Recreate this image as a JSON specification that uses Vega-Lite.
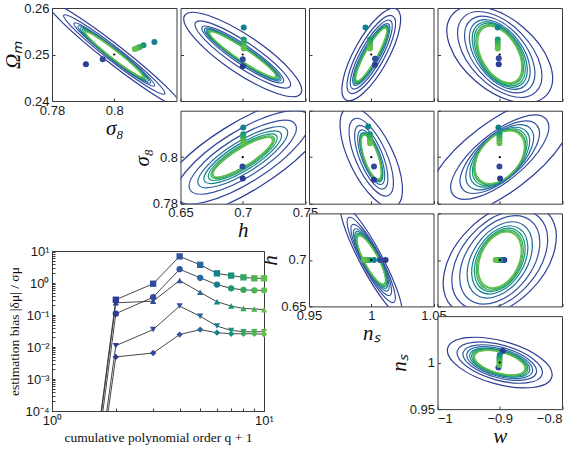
{
  "$schema": "https://vega.github.io/schema/vega-lite/v6.json",
  "background": "white",
  "padding": {"left": 2, "top": 1, "right": 2, "bottom": 4},
  "datasets": {
    "fid": [
      {"p": "A", "x": 0.8, "y": 0.25}, {"p": "B", "x": 0.7, "y": 0.25}, {"p": "C", "x": 1, "y": 0.25}, {"p": "D", "x": -0.9, "y": 0.25},
      {"p": "E", "x": 0.7, "y": 0.8}, {"p": "F", "x": 1, "y": 0.8}, {"p": "G", "x": -0.9, "y": 0.8},
      {"p": "H", "x": 1, "y": 0.7}, {"p": "I", "x": -0.9, "y": 0.7}, {"p": "J", "x": -0.9, "y": 1}
    ],
    "contours": [
      {"p":"A","q":2,"x":0.8,"y":0.25},{"p":"A","q":3,"x":0.8,"y":0.25},{"p":"A","q":4,"x":0.8,"y":0.25},{"p":"A","q":5,"x":0.8,"y":0.25},{"p":"A","q":6,"x":0.8,"y":0.25},{"p":"A","q":7,"x":0.8,"y":0.25},{"p":"A","q":8,"x":0.8,"y":0.25},{"p":"A","q":9,"x":0.8,"y":0.25},{"p":"A","q":10,"x":0.8,"y":0.25},
      {"p":"B","q":2,"x":0.7,"y":0.25},{"p":"B","q":3,"x":0.7,"y":0.25},{"p":"B","q":4,"x":0.7,"y":0.25},{"p":"B","q":5,"x":0.7,"y":0.25},{"p":"B","q":6,"x":0.7,"y":0.25},{"p":"B","q":7,"x":0.7,"y":0.25},{"p":"B","q":8,"x":0.7,"y":0.25},{"p":"B","q":9,"x":0.7,"y":0.25},{"p":"B","q":10,"x":0.7,"y":0.25},
      {"p":"C","q":2,"x":1,"y":0.25},{"p":"C","q":3,"x":1,"y":0.25},{"p":"C","q":4,"x":1,"y":0.25},{"p":"C","q":5,"x":1,"y":0.25},{"p":"C","q":6,"x":1,"y":0.25},{"p":"C","q":7,"x":1,"y":0.25},{"p":"C","q":8,"x":1,"y":0.25},{"p":"C","q":9,"x":1,"y":0.25},{"p":"C","q":10,"x":1,"y":0.25},
      {"p":"D","q":2,"x":-0.9,"y":0.25},{"p":"D","q":3,"x":-0.9,"y":0.25},{"p":"D","q":4,"x":-0.9,"y":0.25},{"p":"D","q":5,"x":-0.9,"y":0.25},{"p":"D","q":6,"x":-0.9,"y":0.25},{"p":"D","q":7,"x":-0.9,"y":0.25},{"p":"D","q":8,"x":-0.9,"y":0.25},{"p":"D","q":9,"x":-0.9,"y":0.25},{"p":"D","q":10,"x":-0.9,"y":0.25},
      {"p":"E","q":2,"x":0.7,"y":0.8},{"p":"E","q":3,"x":0.7,"y":0.8},{"p":"E","q":4,"x":0.7,"y":0.8},{"p":"E","q":5,"x":0.7,"y":0.8},{"p":"E","q":6,"x":0.7,"y":0.8},{"p":"E","q":7,"x":0.7,"y":0.8},{"p":"E","q":8,"x":0.7,"y":0.8},{"p":"E","q":9,"x":0.7,"y":0.8},{"p":"E","q":10,"x":0.7,"y":0.8},
      {"p":"F","q":2,"x":1,"y":0.8},{"p":"F","q":3,"x":1,"y":0.8},{"p":"F","q":4,"x":1,"y":0.8},{"p":"F","q":5,"x":1,"y":0.8},{"p":"F","q":6,"x":1,"y":0.8},{"p":"F","q":7,"x":1,"y":0.8},{"p":"F","q":8,"x":1,"y":0.8},{"p":"F","q":9,"x":1,"y":0.8},{"p":"F","q":10,"x":1,"y":0.8},
      {"p":"G","q":2,"x":-0.9,"y":0.8},{"p":"G","q":3,"x":-0.9,"y":0.8},{"p":"G","q":4,"x":-0.9,"y":0.8},{"p":"G","q":5,"x":-0.9,"y":0.8},{"p":"G","q":6,"x":-0.9,"y":0.8},{"p":"G","q":7,"x":-0.9,"y":0.8},{"p":"G","q":8,"x":-0.9,"y":0.8},{"p":"G","q":9,"x":-0.9,"y":0.8},{"p":"G","q":10,"x":-0.9,"y":0.8},
      {"p":"H","q":2,"x":1,"y":0.7},{"p":"H","q":3,"x":1,"y":0.7},{"p":"H","q":4,"x":1,"y":0.7},{"p":"H","q":5,"x":1,"y":0.7},{"p":"H","q":6,"x":1,"y":0.7},{"p":"H","q":7,"x":1,"y":0.7},{"p":"H","q":8,"x":1,"y":0.7},{"p":"H","q":9,"x":1,"y":0.7},{"p":"H","q":10,"x":1,"y":0.7},
      {"p":"I","q":2,"x":-0.9,"y":0.7},{"p":"I","q":3,"x":-0.9,"y":0.7},{"p":"I","q":4,"x":-0.9,"y":0.7},{"p":"I","q":5,"x":-0.9,"y":0.7},{"p":"I","q":6,"x":-0.9,"y":0.7},{"p":"I","q":7,"x":-0.9,"y":0.7},{"p":"I","q":8,"x":-0.9,"y":0.7},{"p":"I","q":9,"x":-0.9,"y":0.7},{"p":"I","q":10,"x":-0.9,"y":0.7},
      {"p":"J","q":2,"x":-0.9,"y":1},{"p":"J","q":3,"x":-0.9,"y":1},{"p":"J","q":4,"x":-0.9,"y":1},{"p":"J","q":5,"x":-0.9,"y":1},{"p":"J","q":6,"x":-0.9,"y":1},{"p":"J","q":7,"x":-0.9,"y":1},{"p":"J","q":8,"x":-0.9,"y":1},{"p":"J","q":9,"x":-0.9,"y":1},{"p":"J","q":10,"x":-0.9,"y":1}
    ],
    "fits": [
      {"p":"A","q":2,"x":0.7909,"y":0.2479},{"p":"A","q":3,"x":0.7963,"y":0.249},{"p":"A","q":6,"x":0.8129,"y":0.2527},{"p":"A","q":7,"x":0.8094,"y":0.252},{"p":"A","q":8,"x":0.8082,"y":0.2516},{"p":"A","q":9,"x":0.8074,"y":0.2514},{"p":"A","q":10,"x":0.8066,"y":0.2512},
      {"p":"B","q":2,"x":0.7,"y":0.2475},{"p":"B","q":3,"x":0.7,"y":0.249},{"p":"B","q":6,"x":0.7008,"y":0.2558},{"p":"B","q":7,"x":0.7008,"y":0.2532},{"p":"B","q":8,"x":0.7008,"y":0.2526},{"p":"B","q":9,"x":0.7008,"y":0.2519},{"p":"B","q":10,"x":0.7008,"y":0.2513},
      {"p":"C","q":2,"x":1.003,"y":0.2478},{"p":"C","q":3,"x":1.003,"y":0.2491},{"p":"C","q":6,"x":0.9954,"y":0.2558},{"p":"C","q":7,"x":0.999,"y":0.2532},{"p":"C","q":8,"x":0.999,"y":0.2526},{"p":"C","q":9,"x":0.999,"y":0.2519},{"p":"C","q":10,"x":0.999,"y":0.2513},
      {"p":"D","q":2,"x":-0.9016,"y":0.2479},{"p":"D","q":3,"x":-0.9016,"y":0.2492},{"p":"D","q":6,"x":-0.9032,"y":0.2558},{"p":"D","q":7,"x":-0.9032,"y":0.2532},{"p":"D","q":8,"x":-0.9032,"y":0.2526},{"p":"D","q":9,"x":-0.9032,"y":0.2519},{"p":"D","q":10,"x":-0.9032,"y":0.2513},
      {"p":"E","q":2,"x":0.7,"y":0.7908},{"p":"E","q":3,"x":0.6998,"y":0.796},{"p":"E","q":6,"x":0.7004,"y":0.8128},{"p":"E","q":7,"x":0.7004,"y":0.8099},{"p":"E","q":8,"x":0.7004,"y":0.8086},{"p":"E","q":9,"x":0.7004,"y":0.8073},{"p":"E","q":10,"x":0.7004,"y":0.806},
      {"p":"F","q":2,"x":1.0022,"y":0.7903},{"p":"F","q":3,"x":1.0022,"y":0.796},{"p":"F","q":6,"x":0.9976,"y":0.8132},{"p":"F","q":7,"x":0.999,"y":0.8099},{"p":"F","q":8,"x":0.999,"y":0.8086},{"p":"F","q":9,"x":0.999,"y":0.8073},{"p":"F","q":10,"x":0.999,"y":0.806},
      {"p":"G","q":2,"x":-0.8995,"y":0.7908},{"p":"G","q":3,"x":-0.9005,"y":0.796},{"p":"G","q":6,"x":-0.9021,"y":0.8128},{"p":"G","q":7,"x":-0.9005,"y":0.8099},{"p":"G","q":8,"x":-0.9005,"y":0.8086},{"p":"G","q":9,"x":-0.9005,"y":0.8073},{"p":"G","q":10,"x":-0.9005,"y":0.806},
      {"p":"H","q":2,"x":1.0115,"y":0.7},{"p":"H","q":3,"x":1.007,"y":0.7},{"p":"H","q":6,"x":1.0022,"y":0.7},{"p":"H","q":7,"x":0.9988,"y":0.7},{"p":"H","q":8,"x":0.9972,"y":0.7},{"p":"H","q":9,"x":0.9956,"y":0.7},{"p":"H","q":10,"x":0.9941,"y":0.7},
      {"p":"I","q":2,"x":-0.8927,"y":0.7},{"p":"I","q":3,"x":-0.8952,"y":0.7},{"p":"I","q":6,"x":-0.8992,"y":0.7},{"p":"I","q":7,"x":-0.9016,"y":0.7},{"p":"I","q":8,"x":-0.9032,"y":0.7},{"p":"I","q":9,"x":-0.9048,"y":0.7},{"p":"I","q":10,"x":-0.9065,"y":0.7},
      {"p":"J","q":2,"x":-0.8952,"y":1.0124},{"p":"J","q":3,"x":-0.9021,"y":0.9948},{"p":"J","q":6,"x":-0.9,"y":1.0081},{"p":"J","q":7,"x":-0.9005,"y":1.0054},{"p":"J","q":8,"x":-0.9005,"y":1.0027},{"p":"J","q":9,"x":-0.9005,"y":1.0},{"p":"J","q":10,"x":-0.9005,"y":0.9973}
    ],
    "bias": [
      {"s":"Ωm","q":1,"b":2e-16},{"s":"Ωm","q":2,"b":0.30},{"s":"Ωm","q":3,"b":0.95},{"s":"Ωm","q":4,"b":6.8},{"s":"Ωm","q":5,"b":3.7},{"s":"Ωm","q":6,"b":2.0},{"s":"Ωm","q":7,"b":1.7},{"s":"Ωm","q":8,"b":1.5},{"s":"Ωm","q":9,"b":1.4},{"s":"Ωm","q":10,"b":1.4},
      {"s":"σ8","q":1,"b":1e-16},{"s":"σ8","q":2,"b":0.11},{"s":"σ8","q":3,"b":0.36},{"s":"σ8","q":4,"b":2.7},{"s":"σ8","q":5,"b":1.45},{"s":"σ8","q":6,"b":0.89},{"s":"σ8","q":7,"b":0.68},{"s":"σ8","q":8,"b":0.61},{"s":"σ8","q":9,"b":0.59},{"s":"σ8","q":10,"b":0.59},
      {"s":"w","q":1,"b":1.5e-16},{"s":"w","q":2,"b":0.24},{"s":"w","q":3,"b":0.27},{"s":"w","q":4,"b":1.2},{"s":"w","q":5,"b":0.51},{"s":"w","q":6,"b":0.26},{"s":"w","q":7,"b":0.19},{"s":"w","q":8,"b":0.16},{"s":"w","q":9,"b":0.155},{"s":"w","q":10,"b":0.147},
      {"s":"ns","q":1,"b":5e-17},{"s":"ns","q":2,"b":0.011},{"s":"ns","q":3,"b":0.035},{"s":"ns","q":4,"b":0.19},{"s":"ns","q":5,"b":0.091},{"s":"ns","q":6,"b":0.045},{"s":"ns","q":7,"b":0.033},{"s":"ns","q":8,"b":0.030},{"s":"ns","q":9,"b":0.030},{"s":"ns","q":10,"b":0.030},
      {"s":"h","q":1,"b":3e-17},{"s":"h","q":2,"b":0.0049},{"s":"h","q":3,"b":0.0065},{"s":"h","q":4,"b":0.0245},{"s":"h","q":5,"b":0.035},{"s":"h","q":6,"b":0.028},{"s":"h","q":7,"b":0.026},{"s":"h","q":8,"b":0.026},{"s":"h","q":9,"b":0.026},{"s":"h","q":10,"b":0.025}
    ]
  },
  "bounds": "full",
  "align": "none",
  "spacing": -203,
  "resolve": {"scale": {"size": "independent", "shape": "independent", "angle": "independent", "color": "shared"}},
  "vconcat": [
    {
      "columns": 4,
      "bounds": "flush",
      "spacing": {"row": 9.7, "column": 3.5},
      "resolve": {"scale": {"size": "independent", "shape": "independent", "angle": "independent", "color": "shared"}},
      "concat": [
        {
          "width": 124.5, "height": 93,
          "layer": [
            {"data": {"name": "contours"}, "transform": [{"filter": {"field": "p", "equal": "A"}}],
             "mark": {"type": "point", "filled": false, "strokeWidth": 1.2, "opacity": 1, "clip": true, "angle": 38,
                      "shape": "M1,0C1,0.061 0.552,0.11 0,0.11C-0.552,0.11 -1,0.061 -1,0C-1,-0.061 -0.552,-0.11 0,-0.11C0.552,-0.11 1,-0.061 1,0Z"},
             "encoding": {
               "x": {"field": "x", "type": "quantitative", "scale": {"domain": [0.78, 0.82], "nice": false, "zero": false}, "axis": {"values": [0.78, 0.8], "format": ".2~f", "title": "σ₈"}},
               "y": {"field": "y", "type": "quantitative", "scale": {"domain": [0.24, 0.26], "nice": false, "zero": false}, "axis": {"values": [0.24, 0.25, 0.26], "format": ".2~f", "title": "Ωₘ"}},
               "size": {"field": "q", "type": "quantitative", "scale": {"domain": [2,3,4,5,6,7,8,9,10], "range": [29584,16384,10404,8464,7396,6561,5929,5476,5184]}},
               "color": {"field": "q", "type": "ordinal", "scale": {"domain": [2,3,4,5,6,7,8,9,10], "range": ["#2c3c94","#32489c","#3354a2","#24689f","#13808e","#179676","#31a85e","#48b550","#60c14a"]}}
             }},
            {"data": {"name": "fits"}, "transform": [{"filter": {"field": "p", "equal": "A"}}],
             "mark": {"type": "point", "filled": true, "size": 36, "opacity": 1},
             "encoding": {"x": {"field": "x", "type": "quantitative"}, "y": {"field": "y", "type": "quantitative"}, "color": {"field": "q", "type": "ordinal"}}},
            {"data": {"name": "fid"}, "transform": [{"filter": {"field": "p", "equal": "A"}}],
             "mark": {"type": "point", "filled": true, "size": 5, "color": "#000", "opacity": 1},
             "encoding": {"x": {"field": "x", "type": "quantitative"}, "y": {"field": "y", "type": "quantitative"}}}
          ]
        },
        {
          "width": 124.5, "height": 93,
          "layer": [
            {"data": {"name": "contours"}, "transform": [{"filter": {"field": "p", "equal": "B"}}],
             "mark": {"type": "point", "filled": false, "strokeWidth": 1.2, "opacity": 1, "clip": true, "angle": 34},
             "encoding": {
               "x": {"field": "x", "type": "quantitative", "scale": {"domain": [0.65, 0.75], "nice": false, "zero": false}, "axis": {"values": [0.65, 0.7, 0.75], "labels": false, "title": null}},
               "y": {"field": "y", "type": "quantitative", "scale": {"domain": [0.24, 0.26], "nice": false, "zero": false}, "axis": {"values": [0.24, 0.25, 0.26], "labels": false, "title": null}},
               "size": {"field": "q", "type": "quantitative", "scale": {"domain": [2,3,4,5,6,7,8,9,10], "range": [19600,12996,9604,8464,7744,7225,6724,6400,6241]}},
               "shape": {"field": "q", "type": "ordinal", "scale": {"domain": [2,3,4,5,6,7,8,9,10], "range": [
                 "M1,0C1,0.149 0.552,0.27 0,0.27C-0.552,0.27 -1,0.149 -1,0C-1,-0.149 -0.552,-0.27 0,-0.27C0.552,-0.27 1,-0.149 1,0Z",
                 "M1,0C1,0.122 0.552,0.22 0,0.22C-0.552,0.22 -1,0.122 -1,0C-1,-0.122 -0.552,-0.22 0,-0.22C0.552,-0.22 1,-0.122 1,0Z",
                 "M1,0C1,0.105 0.552,0.19 0,0.19C-0.552,0.19 -1,0.105 -1,0C-1,-0.105 -0.552,-0.19 0,-0.19C0.552,-0.19 1,-0.105 1,0Z",
                 "M1,0C1,0.094 0.552,0.17 0,0.17C-0.552,0.17 -1,0.094 -1,0C-1,-0.094 -0.552,-0.17 0,-0.17C0.552,-0.17 1,-0.094 1,0Z",
                 "M1,0C1,0.088 0.552,0.16 0,0.16C-0.552,0.16 -1,0.088 -1,0C-1,-0.088 -0.552,-0.16 0,-0.16C0.552,-0.16 1,-0.088 1,0Z",
                 "M1,0C1,0.088 0.552,0.16 0,0.16C-0.552,0.16 -1,0.088 -1,0C-1,-0.088 -0.552,-0.16 0,-0.16C0.552,-0.16 1,-0.088 1,0Z",
                 "M1,0C1,0.083 0.552,0.15 0,0.15C-0.552,0.15 -1,0.083 -1,0C-1,-0.083 -0.552,-0.15 0,-0.15C0.552,-0.15 1,-0.083 1,0Z",
                 "M1,0C1,0.083 0.552,0.15 0,0.15C-0.552,0.15 -1,0.083 -1,0C-1,-0.083 -0.552,-0.15 0,-0.15C0.552,-0.15 1,-0.083 1,0Z",
                 "M1,0C1,0.083 0.552,0.15 0,0.15C-0.552,0.15 -1,0.083 -1,0C-1,-0.083 -0.552,-0.15 0,-0.15C0.552,-0.15 1,-0.083 1,0Z"]}},
               "color": {"field": "q", "type": "ordinal"}
             }},
            {"data": {"name": "fits"}, "transform": [{"filter": {"field": "p", "equal": "B"}}],
             "mark": {"type": "point", "filled": true, "size": 36, "opacity": 1},
             "encoding": {"x": {"field": "x", "type": "quantitative"}, "y": {"field": "y", "type": "quantitative"}, "color": {"field": "q", "type": "ordinal"}}},
            {"data": {"name": "fid"}, "transform": [{"filter": {"field": "p", "equal": "B"}}],
             "mark": {"type": "point", "filled": true, "size": 5, "color": "#000", "opacity": 1},
             "encoding": {"x": {"field": "x", "type": "quantitative"}, "y": {"field": "y", "type": "quantitative"}}}
          ]
        },
        {
          "width": 124.5, "height": 93,
          "layer": [
            {"data": {"name": "contours"}, "transform": [{"filter": {"field": "p", "equal": "C"}}],
             "mark": {"type": "point", "filled": false, "strokeWidth": 1.2, "opacity": 1, "clip": true, "angle": -61},
             "encoding": {
               "x": {"field": "x", "type": "quantitative", "scale": {"domain": [0.95, 1.05], "nice": false, "zero": false}, "axis": {"values": [0.95, 1, 1.05], "labels": false, "title": null}},
               "y": {"field": "y", "type": "quantitative", "scale": {"domain": [0.24, 0.26], "nice": false, "zero": false}, "axis": {"values": [0.24, 0.25, 0.26], "labels": false, "title": null}},
               "size": {"field": "q", "type": "quantitative", "scale": {"domain": [2,3,4,5,6,7,8,9,10], "range": [10816,7744,6084,4900,4356,4096,3844,3721,3600]}},
               "shape": {"field": "q", "type": "ordinal", "scale": {"domain": [2,3,4,5,6,7,8,9,10], "range": [
                 "M1,0C1,0.182 0.552,0.33 0,0.33C-0.552,0.33 -1,0.182 -1,0C-1,-0.182 -0.552,-0.33 0,-0.33C0.552,-0.33 1,-0.182 1,0Z",
                 "M1,0C1,0.166 0.552,0.3 0,0.3C-0.552,0.3 -1,0.166 -1,0C-1,-0.166 -0.552,-0.3 0,-0.3C0.552,-0.3 1,-0.166 1,0Z",
                 "M1,0C1,0.149 0.552,0.27 0,0.27C-0.552,0.27 -1,0.149 -1,0C-1,-0.149 -0.552,-0.27 0,-0.27C0.552,-0.27 1,-0.149 1,0Z",
                 "M1,0C1,0.138 0.552,0.25 0,0.25C-0.552,0.25 -1,0.138 -1,0C-1,-0.138 -0.552,-0.25 0,-0.25C0.552,-0.25 1,-0.138 1,0Z",
                 "M1,0C1,0.127 0.552,0.23 0,0.23C-0.552,0.23 -1,0.127 -1,0C-1,-0.127 -0.552,-0.23 0,-0.23C0.552,-0.23 1,-0.127 1,0Z",
                 "M1,0C1,0.122 0.552,0.22 0,0.22C-0.552,0.22 -1,0.122 -1,0C-1,-0.122 -0.552,-0.22 0,-0.22C0.552,-0.22 1,-0.122 1,0Z",
                 "M1,0C1,0.116 0.552,0.21 0,0.21C-0.552,0.21 -1,0.116 -1,0C-1,-0.116 -0.552,-0.21 0,-0.21C0.552,-0.21 1,-0.116 1,0Z",
                 "M1,0C1,0.11 0.552,0.2 0,0.2C-0.552,0.2 -1,0.11 -1,0C-1,-0.11 -0.552,-0.2 0,-0.2C0.552,-0.2 1,-0.11 1,0Z",
                 "M1,0C1,0.11 0.552,0.2 0,0.2C-0.552,0.2 -1,0.11 -1,0C-1,-0.11 -0.552,-0.2 0,-0.2C0.552,-0.2 1,-0.11 1,0Z"]}},
               "color": {"field": "q", "type": "ordinal"}
             }},
            {"data": {"name": "fits"}, "transform": [{"filter": {"field": "p", "equal": "C"}}],
             "mark": {"type": "point", "filled": true, "size": 36, "opacity": 1},
             "encoding": {"x": {"field": "x", "type": "quantitative"}, "y": {"field": "y", "type": "quantitative"}, "color": {"field": "q", "type": "ordinal"}}},
            {"data": {"name": "fid"}, "transform": [{"filter": {"field": "p", "equal": "C"}}],
             "mark": {"type": "point", "filled": true, "size": 5, "color": "#000", "opacity": 1},
             "encoding": {"x": {"field": "x", "type": "quantitative"}, "y": {"field": "y", "type": "quantitative"}}}
          ]
        },
        {
          "width": 124.5, "height": 93,
          "layer": [
            {"data": {"name": "contours"}, "transform": [{"filter": {"field": "p", "equal": "D"}}],
             "mark": {"type": "point", "filled": false, "strokeWidth": 1.2, "opacity": 1, "clip": true,
                      "shape": "M1,0C1,0.32 0.552,0.58 0,0.58C-0.552,0.58 -1,0.32 -1,0C-1,-0.32 -0.552,-0.58 0,-0.58C0.552,-0.58 1,-0.32 1,0Z"},
             "encoding": {
               "x": {"field": "x", "type": "quantitative", "scale": {"domain": [-1, -0.8], "nice": false, "zero": false}, "axis": {"values": [-1, -0.9, -0.8], "labels": false, "title": null}},
               "y": {"field": "y", "type": "quantitative", "scale": {"domain": [0.24, 0.26], "nice": false, "zero": false}, "axis": {"values": [0.24, 0.25, 0.26], "labels": false, "title": null}},
               "size": {"field": "q", "type": "quantitative", "scale": {"domain": [2,3,4,5,6,7,8,9,10], "range": [15376,10816,8100,6400,5476,4900,4356,4096,3844]}},
               "angle": {"field": "q", "type": "quantitative", "scale": {"domain": [2,3,4,5,6,7,8,9,10], "range": [40,46,50,53,55,57,58,59,60]}},
               "color": {"field": "q", "type": "ordinal"}
             }},
            {"data": {"name": "fits"}, "transform": [{"filter": {"field": "p", "equal": "D"}}],
             "mark": {"type": "point", "filled": true, "size": 36, "opacity": 1},
             "encoding": {"x": {"field": "x", "type": "quantitative"}, "y": {"field": "y", "type": "quantitative"}, "color": {"field": "q", "type": "ordinal"}}},
            {"data": {"name": "fid"}, "transform": [{"filter": {"field": "p", "equal": "D"}}],
             "mark": {"type": "point", "filled": true, "size": 5, "color": "#000", "opacity": 1},
             "encoding": {"x": {"field": "x", "type": "quantitative"}, "y": {"field": "y", "type": "quantitative"}}}
          ]
        },
        {"width": 124.5, "height": 93, "data": {"values": [{"z": 0}]}, "mark": {"type": "point", "opacity": 0}, "view": {"stroke": null, "fill": null}},
        {
          "width": 124.5, "height": 93,
          "layer": [
            {"data": {"name": "contours"}, "transform": [{"filter": {"field": "p", "equal": "E"}}],
             "mark": {"type": "point", "filled": false, "strokeWidth": 1.2, "opacity": 1, "clip": true, "angle": -32},
             "encoding": {
               "x": {"field": "x", "type": "quantitative", "scale": {"domain": [0.65, 0.75], "nice": false, "zero": false}, "axis": {"values": [0.65, 0.7, 0.75], "format": ".2~f", "title": "h"}},
               "y": {"field": "y", "type": "quantitative", "scale": {"domain": [0.78, 0.82], "nice": false, "zero": false}, "axis": {"values": [0.78, 0.8], "format": ".2~f", "title": "σ₈"}},
               "size": {"field": "q", "type": "quantitative", "scale": {"domain": [2,3,4,5,6,7,8,9,10], "range": [40000,24336,15376,10816,8100,6400,5476,5041,4761]}},
               "shape": {"field": "q", "type": "ordinal", "scale": {"domain": [2,3,4,5,6,7,8,9,10], "range": [
                 "M1,0C1,0.188 0.552,0.34 0,0.34C-0.552,0.34 -1,0.188 -1,0C-1,-0.188 -0.552,-0.34 0,-0.34C0.552,-0.34 1,-0.188 1,0Z",
                 "M1,0C1,0.182 0.552,0.33 0,0.33C-0.552,0.33 -1,0.182 -1,0C-1,-0.182 -0.552,-0.33 0,-0.33C0.552,-0.33 1,-0.182 1,0Z",
                 "M1,0C1,0.177 0.552,0.32 0,0.32C-0.552,0.32 -1,0.177 -1,0C-1,-0.177 -0.552,-0.32 0,-0.32C0.552,-0.32 1,-0.177 1,0Z",
                 "M1,0C1,0.166 0.552,0.3 0,0.3C-0.552,0.3 -1,0.166 -1,0C-1,-0.166 -0.552,-0.3 0,-0.3C0.552,-0.3 1,-0.166 1,0Z",
                 "M1,0C1,0.16 0.552,0.29 0,0.29C-0.552,0.29 -1,0.16 -1,0C-1,-0.16 -0.552,-0.29 0,-0.29C0.552,-0.29 1,-0.16 1,0Z",
                 "M1,0C1,0.155 0.552,0.28 0,0.28C-0.552,0.28 -1,0.155 -1,0C-1,-0.155 -0.552,-0.28 0,-0.28C0.552,-0.28 1,-0.155 1,0Z",
                 "M1,0C1,0.149 0.552,0.27 0,0.27C-0.552,0.27 -1,0.149 -1,0C-1,-0.149 -0.552,-0.27 0,-0.27C0.552,-0.27 1,-0.149 1,0Z",
                 "M1,0C1,0.144 0.552,0.26 0,0.26C-0.552,0.26 -1,0.144 -1,0C-1,-0.144 -0.552,-0.26 0,-0.26C0.552,-0.26 1,-0.144 1,0Z",
                 "M1,0C1,0.138 0.552,0.25 0,0.25C-0.552,0.25 -1,0.138 -1,0C-1,-0.138 -0.552,-0.25 0,-0.25C0.552,-0.25 1,-0.138 1,0Z"]}},
               "color": {"field": "q", "type": "ordinal"}
             }},
            {"data": {"name": "fits"}, "transform": [{"filter": {"field": "p", "equal": "E"}}],
             "mark": {"type": "point", "filled": true, "size": 36, "opacity": 1},
             "encoding": {"x": {"field": "x", "type": "quantitative"}, "y": {"field": "y", "type": "quantitative"}, "color": {"field": "q", "type": "ordinal"}}},
            {"data": {"name": "fid"}, "transform": [{"filter": {"field": "p", "equal": "E"}}],
             "mark": {"type": "point", "filled": true, "size": 5, "color": "#000", "opacity": 1},
             "encoding": {"x": {"field": "x", "type": "quantitative"}, "y": {"field": "y", "type": "quantitative"}}}
          ]
        },
        {
          "width": 124.5, "height": 93,
          "layer": [
            {"data": {"name": "contours"}, "transform": [{"filter": {"field": "p", "equal": "F"}}],
             "mark": {"type": "point", "filled": false, "strokeWidth": 1.2, "opacity": 1, "clip": true},
             "encoding": {
               "x": {"field": "x", "type": "quantitative", "scale": {"domain": [0.95, 1.05], "nice": false, "zero": false}, "axis": {"values": [0.95, 1, 1.05], "labels": false, "title": null}},
               "y": {"field": "y", "type": "quantitative", "scale": {"domain": [0.78, 0.82], "nice": false, "zero": false}, "axis": {"values": [0.78, 0.8, 0.82], "labels": false, "title": null}},
               "size": {"field": "q", "type": "quantitative", "scale": {"domain": [2,3,4,5,6,7,8,9,10], "range": [12100,7056,4624,3364,2704,2500,2304,2209,2116]}},
               "angle": {"field": "q", "type": "quantitative", "scale": {"domain": [2,3,4,5,6,7,8,9,10], "range": [64,66,68,69,70,70,71,71,71]}},
               "shape": {"field": "q", "type": "ordinal", "scale": {"domain": [2,3,4,5,6,7,8,9,10], "range": [
                 "M1,0C1,0.221 0.552,0.4 0,0.4C-0.552,0.4 -1,0.221 -1,0C-1,-0.221 -0.552,-0.4 0,-0.4C0.552,-0.4 1,-0.221 1,0Z",
                 "M1,0C1,0.204 0.552,0.37 0,0.37C-0.552,0.37 -1,0.204 -1,0C-1,-0.204 -0.552,-0.37 0,-0.37C0.552,-0.37 1,-0.204 1,0Z",
                 "M1,0C1,0.188 0.552,0.34 0,0.34C-0.552,0.34 -1,0.188 -1,0C-1,-0.188 -0.552,-0.34 0,-0.34C0.552,-0.34 1,-0.188 1,0Z",
                 "M1,0C1,0.177 0.552,0.32 0,0.32C-0.552,0.32 -1,0.177 -1,0C-1,-0.177 -0.552,-0.32 0,-0.32C0.552,-0.32 1,-0.177 1,0Z",
                 "M1,0C1,0.171 0.552,0.31 0,0.31C-0.552,0.31 -1,0.171 -1,0C-1,-0.171 -0.552,-0.31 0,-0.31C0.552,-0.31 1,-0.171 1,0Z",
                 "M1,0C1,0.166 0.552,0.3 0,0.3C-0.552,0.3 -1,0.166 -1,0C-1,-0.166 -0.552,-0.3 0,-0.3C0.552,-0.3 1,-0.166 1,0Z",
                 "M1,0C1,0.166 0.552,0.3 0,0.3C-0.552,0.3 -1,0.166 -1,0C-1,-0.166 -0.552,-0.3 0,-0.3C0.552,-0.3 1,-0.166 1,0Z",
                 "M1,0C1,0.166 0.552,0.3 0,0.3C-0.552,0.3 -1,0.166 -1,0C-1,-0.166 -0.552,-0.3 0,-0.3C0.552,-0.3 1,-0.166 1,0Z",
                 "M1,0C1,0.166 0.552,0.3 0,0.3C-0.552,0.3 -1,0.166 -1,0C-1,-0.166 -0.552,-0.3 0,-0.3C0.552,-0.3 1,-0.166 1,0Z"]}},
               "color": {"field": "q", "type": "ordinal"}
             }},
            {"data": {"name": "fits"}, "transform": [{"filter": {"field": "p", "equal": "F"}}],
             "mark": {"type": "point", "filled": true, "size": 36, "opacity": 1},
             "encoding": {"x": {"field": "x", "type": "quantitative"}, "y": {"field": "y", "type": "quantitative"}, "color": {"field": "q", "type": "ordinal"}}},
            {"data": {"name": "fid"}, "transform": [{"filter": {"field": "p", "equal": "F"}}],
             "mark": {"type": "point", "filled": true, "size": 5, "color": "#000", "opacity": 1},
             "encoding": {"x": {"field": "x", "type": "quantitative"}, "y": {"field": "y", "type": "quantitative"}}}
          ]
        },
        {
          "width": 124.5, "height": 93,
          "layer": [
            {"data": {"name": "contours"}, "transform": [{"filter": {"field": "p", "equal": "G"}}],
             "mark": {"type": "point", "filled": false, "strokeWidth": 1.2, "opacity": 1, "clip": true},
             "encoding": {
               "x": {"field": "x", "type": "quantitative", "scale": {"domain": [-1, -0.8], "nice": false, "zero": false}, "axis": {"values": [-1, -0.9, -0.8], "labels": false, "title": null}},
               "y": {"field": "y", "type": "quantitative", "scale": {"domain": [0.78, 0.82], "nice": false, "zero": false}, "axis": {"values": [0.78, 0.8, 0.82], "labels": false, "title": null}},
               "size": {"field": "q", "type": "quantitative", "scale": {"domain": [2,3,4,5,6,7,8,9,10], "range": [30976,14400,9604,7056,5476,4624,4096,3844,3600]}},
               "angle": {"field": "q", "type": "quantitative", "scale": {"domain": [2,3,4,5,6,7,8,9,10], "range": [-37,-39,-41,-43,-45,-47,-48,-49,-50]}},
               "shape": {"field": "q", "type": "ordinal", "scale": {"domain": [2,3,4,5,6,7,8,9,10], "range": [
                 "M1,0C1,0.221 0.552,0.4 0,0.4C-0.552,0.4 -1,0.221 -1,0C-1,-0.221 -0.552,-0.4 0,-0.4C0.552,-0.4 1,-0.221 1,0Z",
                 "M1,0C1,0.221 0.552,0.4 0,0.4C-0.552,0.4 -1,0.221 -1,0C-1,-0.221 -0.552,-0.4 0,-0.4C0.552,-0.4 1,-0.221 1,0Z",
                 "M1,0C1,0.249 0.552,0.45 0,0.45C-0.552,0.45 -1,0.249 -1,0C-1,-0.249 -0.552,-0.45 0,-0.45C0.552,-0.45 1,-0.249 1,0Z",
                 "M1,0C1,0.276 0.552,0.5 0,0.5C-0.552,0.5 -1,0.276 -1,0C-1,-0.276 -0.552,-0.5 0,-0.5C0.552,-0.5 1,-0.276 1,0Z",
                 "M1,0C1,0.304 0.552,0.55 0,0.55C-0.552,0.55 -1,0.304 -1,0C-1,-0.304 -0.552,-0.55 0,-0.55C0.552,-0.55 1,-0.304 1,0Z",
                 "M1,0C1,0.32 0.552,0.58 0,0.58C-0.552,0.58 -1,0.32 -1,0C-1,-0.32 -0.552,-0.58 0,-0.58C0.552,-0.58 1,-0.32 1,0Z",
                 "M1,0C1,0.342 0.552,0.62 0,0.62C-0.552,0.62 -1,0.342 -1,0C-1,-0.342 -0.552,-0.62 0,-0.62C0.552,-0.62 1,-0.342 1,0Z",
                 "M1,0C1,0.353 0.552,0.64 0,0.64C-0.552,0.64 -1,0.353 -1,0C-1,-0.353 -0.552,-0.64 0,-0.64C0.552,-0.64 1,-0.353 1,0Z",
                 "M1,0C1,0.365 0.552,0.66 0,0.66C-0.552,0.66 -1,0.365 -1,0C-1,-0.365 -0.552,-0.66 0,-0.66C0.552,-0.66 1,-0.365 1,0Z"]}},
               "color": {"field": "q", "type": "ordinal"}
             }},
            {"data": {"name": "fits"}, "transform": [{"filter": {"field": "p", "equal": "G"}}],
             "mark": {"type": "point", "filled": true, "size": 36, "opacity": 1},
             "encoding": {"x": {"field": "x", "type": "quantitative"}, "y": {"field": "y", "type": "quantitative"}, "color": {"field": "q", "type": "ordinal"}}},
            {"data": {"name": "fid"}, "transform": [{"filter": {"field": "p", "equal": "G"}}],
             "mark": {"type": "point", "filled": true, "size": 5, "color": "#000", "opacity": 1},
             "encoding": {"x": {"field": "x", "type": "quantitative"}, "y": {"field": "y", "type": "quantitative"}}}
          ]
        },
        {"width": 124.5, "height": 93, "data": {"values": [{"z": 0}]}, "mark": {"type": "point", "opacity": 0}, "view": {"stroke": null, "fill": null}},
        {"width": 124.5, "height": 93, "data": {"values": [{"z": 0}]}, "mark": {"type": "point", "opacity": 0}, "view": {"stroke": null, "fill": null}},
        {
          "width": 124.5, "height": 93,
          "layer": [
            {"data": {"name": "contours"}, "transform": [{"filter": {"field": "p", "equal": "H"}}],
             "mark": {"type": "point", "filled": false, "strokeWidth": 1.2, "opacity": 1, "clip": true, "angle": 62},
             "encoding": {
               "x": {"field": "x", "type": "quantitative", "scale": {"domain": [0.95, 1.05], "nice": false, "zero": false}, "axis": {"values": [0.95, 1, 1.05], "format": ".2~f", "title": "nₛ"}},
               "y": {"field": "y", "type": "quantitative", "scale": {"domain": [0.65, 0.75], "nice": false, "zero": false}, "axis": {"values": [0.65, 0.7], "format": ".2~f", "title": "h"}},
               "size": {"field": "q", "type": "quantitative", "scale": {"domain": [2,3,4,5,6,7,8,9,10], "range": [15376,9216,6400,4900,4096,3600,3249,3025,2916]}},
               "shape": {"field": "q", "type": "ordinal", "scale": {"domain": [2,3,4,5,6,7,8,9,10], "range": [
                 "M1,0C1,0.099 0.552,0.18 0,0.18C-0.552,0.18 -1,0.099 -1,0C-1,-0.099 -0.552,-0.18 0,-0.18C0.552,-0.18 1,-0.099 1,0Z",
                 "M1,0C1,0.11 0.552,0.2 0,0.2C-0.552,0.2 -1,0.11 -1,0C-1,-0.11 -0.552,-0.2 0,-0.2C0.552,-0.2 1,-0.11 1,0Z",
                 "M1,0C1,0.122 0.552,0.22 0,0.22C-0.552,0.22 -1,0.122 -1,0C-1,-0.122 -0.552,-0.22 0,-0.22C0.552,-0.22 1,-0.122 1,0Z",
                 "M1,0C1,0.127 0.552,0.23 0,0.23C-0.552,0.23 -1,0.127 -1,0C-1,-0.127 -0.552,-0.23 0,-0.23C0.552,-0.23 1,-0.127 1,0Z",
                 "M1,0C1,0.133 0.552,0.24 0,0.24C-0.552,0.24 -1,0.133 -1,0C-1,-0.133 -0.552,-0.24 0,-0.24C0.552,-0.24 1,-0.133 1,0Z",
                 "M1,0C1,0.138 0.552,0.25 0,0.25C-0.552,0.25 -1,0.138 -1,0C-1,-0.138 -0.552,-0.25 0,-0.25C0.552,-0.25 1,-0.138 1,0Z",
                 "M1,0C1,0.138 0.552,0.25 0,0.25C-0.552,0.25 -1,0.138 -1,0C-1,-0.138 -0.552,-0.25 0,-0.25C0.552,-0.25 1,-0.138 1,0Z",
                 "M1,0C1,0.144 0.552,0.26 0,0.26C-0.552,0.26 -1,0.144 -1,0C-1,-0.144 -0.552,-0.26 0,-0.26C0.552,-0.26 1,-0.144 1,0Z",
                 "M1,0C1,0.144 0.552,0.26 0,0.26C-0.552,0.26 -1,0.144 -1,0C-1,-0.144 -0.552,-0.26 0,-0.26C0.552,-0.26 1,-0.144 1,0Z"]}},
               "color": {"field": "q", "type": "ordinal"}
             }},
            {"data": {"name": "fits"}, "transform": [{"filter": {"field": "p", "equal": "H"}}],
             "mark": {"type": "point", "filled": true, "size": 36, "opacity": 1},
             "encoding": {"x": {"field": "x", "type": "quantitative"}, "y": {"field": "y", "type": "quantitative"}, "color": {"field": "q", "type": "ordinal"}}},
            {"data": {"name": "fid"}, "transform": [{"filter": {"field": "p", "equal": "H"}}],
             "mark": {"type": "point", "filled": true, "size": 5, "color": "#000", "opacity": 1},
             "encoding": {"x": {"field": "x", "type": "quantitative"}, "y": {"field": "y", "type": "quantitative"}}}
          ]
        },
        {
          "width": 124.5, "height": 93,
          "layer": [
            {"data": {"name": "contours"}, "transform": [{"filter": {"field": "p", "equal": "I"}}],
             "mark": {"type": "point", "filled": false, "strokeWidth": 1.2, "opacity": 1, "clip": true,
                      "shape": "M1,0C1,0.359 0.552,0.65 0,0.65C-0.552,0.65 -1,0.359 -1,0C-1,-0.359 -0.552,-0.65 0,-0.65C0.552,-0.65 1,-0.359 1,0Z"},
             "encoding": {
               "x": {"field": "x", "type": "quantitative", "scale": {"domain": [-1, -0.8], "nice": false, "zero": false}, "axis": {"values": [-1, -0.9, -0.8], "labels": false, "title": null}},
               "y": {"field": "y", "type": "quantitative", "scale": {"domain": [0.65, 0.75], "nice": false, "zero": false}, "axis": {"values": [0.65, 0.7, 0.75], "labels": false, "title": null}},
               "size": {"field": "q", "type": "quantitative", "scale": {"domain": [2,3,4,5,6,7,8,9,10], "range": [17956,13456,10000,7056,5476,4624,4096,3721,3481]}},
               "angle": {"field": "q", "type": "quantitative", "scale": {"domain": [2,3,4,5,6,7,8,9,10], "range": [-45,-48,-52,-56,-59,-61,-63,-64,-65]}},
               "color": {"field": "q", "type": "ordinal"}
             }},
            {"data": {"name": "fits"}, "transform": [{"filter": {"field": "p", "equal": "I"}}],
             "mark": {"type": "point", "filled": true, "size": 36, "opacity": 1},
             "encoding": {"x": {"field": "x", "type": "quantitative"}, "y": {"field": "y", "type": "quantitative"}, "color": {"field": "q", "type": "ordinal"}}},
            {"data": {"name": "fid"}, "transform": [{"filter": {"field": "p", "equal": "I"}}],
             "mark": {"type": "point", "filled": true, "size": 5, "color": "#000", "opacity": 1},
             "encoding": {"x": {"field": "x", "type": "quantitative"}, "y": {"field": "y", "type": "quantitative"}}}
          ]
        },
        {"width": 124.5, "height": 93, "data": {"values": [{"z": 0}]}, "mark": {"type": "point", "opacity": 0}, "view": {"stroke": null, "fill": null}},
        {"width": 124.5, "height": 93, "data": {"values": [{"z": 0}]}, "mark": {"type": "point", "opacity": 0}, "view": {"stroke": null, "fill": null}},
        {"width": 124.5, "height": 93, "data": {"values": [{"z": 0}]}, "mark": {"type": "point", "opacity": 0}, "view": {"stroke": null, "fill": null}},
        {
          "width": 124.5, "height": 93,
          "layer": [
            {"data": {"name": "contours"}, "transform": [{"filter": {"field": "p", "equal": "J"}}],
             "mark": {"type": "point", "filled": false, "strokeWidth": 1.2, "opacity": 1, "clip": true, "angle": 15.5,
                      "shape": "M1,0C1,0.221 0.552,0.4 0,0.4C-0.552,0.4 -1,0.221 -1,0C-1,-0.221 -0.552,-0.4 0,-0.4C0.552,-0.4 1,-0.221 1,0Z"},
             "encoding": {
               "x": {"field": "x", "type": "quantitative", "scale": {"domain": [-1, -0.8], "nice": false, "zero": false}, "axis": {"values": [-1, -0.9, -0.8], "format": ".2~f", "title": "w", "labelFlush": 10}},
               "y": {"field": "y", "type": "quantitative", "scale": {"domain": [0.95, 1.05], "nice": false, "zero": false}, "axis": {"values": [0.95, 1], "format": ".2~f", "title": "nₛ"}},
               "size": {"field": "q", "type": "quantitative", "scale": {"domain": [2,3,4,5,6,7,8,9,10], "range": [11664,7744,5776,4624,3844,3364,3025,2809,2704]}},
               "color": {"field": "q", "type": "ordinal"}
             }},
            {"data": {"name": "fits"}, "transform": [{"filter": {"field": "p", "equal": "J"}}],
             "mark": {"type": "point", "filled": true, "size": 36, "opacity": 1},
             "encoding": {"x": {"field": "x", "type": "quantitative"}, "y": {"field": "y", "type": "quantitative"}, "color": {"field": "q", "type": "ordinal"}}},
            {"data": {"name": "fid"}, "transform": [{"filter": {"field": "p", "equal": "J"}}],
             "mark": {"type": "point", "filled": true, "size": 5, "color": "#000", "opacity": 1},
             "encoding": {"x": {"field": "x", "type": "quantitative"}, "y": {"field": "y", "type": "quantitative"}}}
          ]
        }
      ]
    },
    {
      "width": 212, "height": 160,
      "data": {"name": "bias"},
      "encoding": {
        "x": {"field": "q", "type": "quantitative", "scale": {"type": "log", "domain": [1, 10], "nice": false},
              "axis": {"values": [1,2,3,4,5,6,7,8,9,10], "labelExpr": "datum.value == 1 ? '10⁰' : datum.value == 10 ? '10¹' : ''",
                       "title": "cumulative polynomial order q + 1", "titleFontStyle": "normal", "titleFontSize": 13.5, "titlePadding": 3}},
        "y": {"field": "b", "type": "quantitative", "scale": {"type": "log", "domain": [0.0001, 10], "nice": false},
              "axis": {"values": [0.0001,0.0002,0.0003,0.0004,0.0005,0.0006,0.0007,0.0008,0.0009,0.001,0.002,0.003,0.004,0.005,0.006,0.007,0.008,0.009,0.01,0.02,0.03,0.04,0.05,0.06,0.07,0.08,0.09,0.1,0.2,0.3,0.4,0.5,0.6,0.7,0.8,0.9,1,2,3,4,5,6,7,8,9,10],
                       "labelExpr": "datum.value == 10 ? '10¹' : datum.value == 1 ? '10⁰' : datum.value == 0.1 ? '10⁻¹' : datum.value == 0.01 ? '10⁻²' : datum.value == 0.001 ? '10⁻³' : datum.value == 0.0001 ? '10⁻⁴' : ''",
                       "title": "estimation bias |δμ| / σμ", "titleFontStyle": "normal", "titleFontSize": 13.5, "titlePadding": 3}}
      },
      "layer": [
        {"mark": {"type": "line", "color": "#333333", "strokeWidth": 0.9, "clip": true},
         "encoding": {"detail": {"field": "s", "type": "nominal"}}},
        {"transform": [{"filter": {"field": "q", "gte": 2}}],
         "mark": {"type": "point", "filled": true, "size": 40, "opacity": 1},
         "encoding": {
           "shape": {"field": "s", "type": "nominal", "scale": {"domain": ["Ωm","σ8","w","ns","h"], "range": ["square","circle","triangle-up","triangle-down","diamond"]}},
           "color": {"field": "q", "type": "ordinal"}
         }}
      ]
    }
  ],
  "config": {
    "view": {"stroke": "#3a3a3a", "strokeWidth": 1, "fill": "white"},
    "axis": {"domain": false, "grid": false, "tickColor": "#3a3a3a", "tickSize": -3, "tickWidth": 1,
             "labelFont": "Liberation Sans", "labelFontSize": 13, "labelColor": "#1a1a1a", "labelPadding": 6,
             "labelFlush": false, "labelOverlap": false, "labelBound": false,
             "titleFont": "Liberation Serif", "titleFontStyle": "italic", "titleFontWeight": "normal", "titleFontSize": 21, "titleColor": "#111111", "titlePadding": 0},
    "legend": {"disable": true}
  }
}
